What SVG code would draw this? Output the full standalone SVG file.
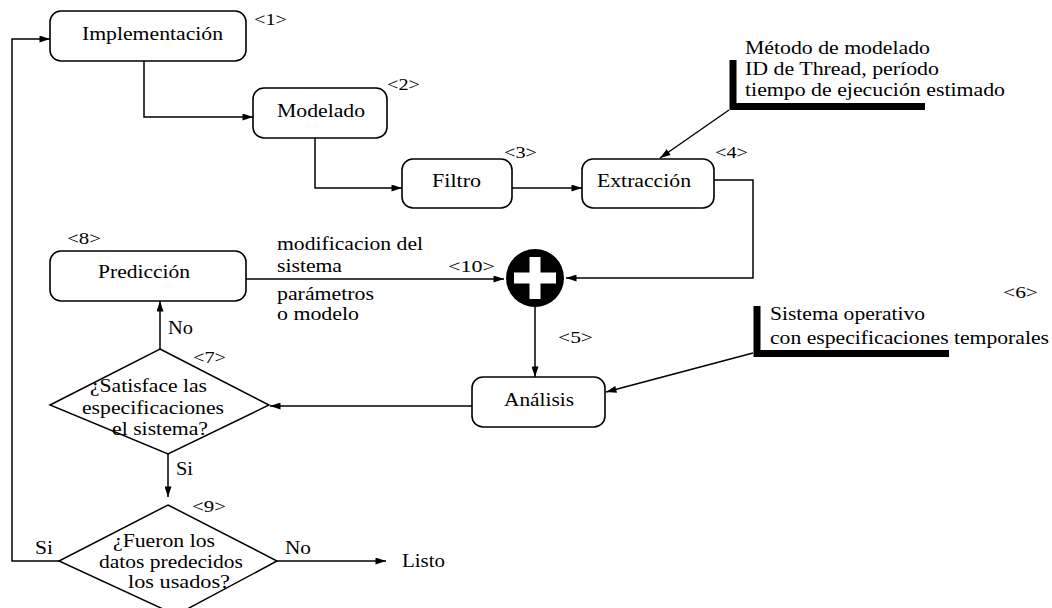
<svg xmlns="http://www.w3.org/2000/svg" width="1052" height="608" viewBox="0 0 1052 608" font-family="'Liberation Serif', 'DejaVu Serif', serif">
  <defs>
    <marker id="arrow" viewBox="0 0 12 8" refX="12" refY="4" markerWidth="12" markerHeight="7" markerUnits="userSpaceOnUse" orient="auto">
      <path d="M0,0 L12,4 L0,8 Z" fill="#000"/>
    </marker>
    <style>
      text { font-family: 'Liberation Serif', 'DejaVu Serif', serif; fill: #000; }
      .lbl { font-size: 19.5px; }
      .num { font-size: 16px; }
      .box { fill: #fff; stroke: #000; stroke-width: 1.6; }
      .dia { fill: none; stroke: #000; stroke-width: 1.5; }
      .edge { fill: none; stroke: #000; stroke-width: 1.5; marker-end: url(#arrow); }
      .bracket { fill: none; stroke: #000; stroke-width: 7; }
    </style>
  </defs>

  <!-- connectors -->
  <g id="connectors">
    <polyline class="edge" points="59,561 12,561 12,39 50,39"/>
    <polyline class="edge" points="144,61 144,117 253,117"/>
    <polyline class="edge" points="315,138 315,188 402,188"/>
    <line class="edge" x1="512" y1="188" x2="582" y2="188"/>
    <polyline class="edge" points="714,180 753,180 753,278 566,278"/>
    <line class="edge" x1="245" y1="279" x2="504" y2="279"/>
    <line class="edge" x1="535" y1="307" x2="535" y2="377"/>
    <line class="edge" x1="472" y1="406" x2="270" y2="406"/>
    <line class="edge" x1="160" y1="349" x2="160" y2="301"/>
    <line class="edge" x1="168" y1="454" x2="168" y2="497"/>
    <line class="edge" x1="277" y1="561" x2="386" y2="561"/>
    <line class="edge" x1="729" y1="110" x2="660" y2="158"/>
    <line class="edge" x1="753" y1="353" x2="606" y2="392"/>
  </g>

  <!-- 1: Implementación -->
  <g id="n1">
    <rect class="box" x="50" y="11" width="196" height="50" rx="11"/>
    <text class="lbl" x="82" y="40" textLength="141" lengthAdjust="spacingAndGlyphs">Implementación</text>
    <text class="num" x="254" y="25" textLength="33" lengthAdjust="spacingAndGlyphs">&lt;1&gt;</text>
  </g>

  <!-- 2: Modelado -->
  <g id="n2">
    <rect class="box" x="253" y="88" width="134" height="50" rx="11"/>
    <text class="lbl" x="277" y="117" textLength="88" lengthAdjust="spacingAndGlyphs">Modelado</text>
    <text class="num" x="387" y="90" textLength="33" lengthAdjust="spacingAndGlyphs">&lt;2&gt;</text>
  </g>

  <!-- 3: Filtro -->
  <g id="n3">
    <rect class="box" x="402" y="159" width="110" height="49" rx="11"/>
    <text class="lbl" x="432" y="187" textLength="49" lengthAdjust="spacingAndGlyphs">Filtro</text>
    <text class="num" x="504" y="158" textLength="33" lengthAdjust="spacingAndGlyphs">&lt;3&gt;</text>
  </g>

  <!-- 4: Extracción -->
  <g id="n4">
    <rect class="box" x="582" y="159" width="132" height="49" rx="11"/>
    <text class="lbl" x="597" y="187" textLength="94" lengthAdjust="spacingAndGlyphs">Extracción</text>
    <text class="num" x="715" y="158" textLength="33" lengthAdjust="spacingAndGlyphs">&lt;4&gt;</text>
  </g>

  <!-- extraction inputs -->
  <g id="n4-input">
    <polyline class="bracket" points="733,60 733,106.5 925,106.5"/>
    <text class="lbl" x="745" y="54" textLength="185" lengthAdjust="spacingAndGlyphs">Método de modelado</text>
    <text class="lbl" x="745" y="75" textLength="194" lengthAdjust="spacingAndGlyphs">ID de Thread, período</text>
    <text class="lbl" x="745" y="96" textLength="260" lengthAdjust="spacingAndGlyphs">tiempo de ejecución estimado</text>
  </g>

  <!-- 10: combining node -->
  <g id="n10">
    <circle cx="535" cy="278" r="29" fill="#000"/>
    <rect x="514" y="272.5" width="42" height="11" fill="#fff"/>
    <rect x="529.5" y="257" width="11" height="42" fill="#fff"/>
    <text class="num" x="448" y="272" textLength="47" lengthAdjust="spacingAndGlyphs">&lt;10&gt;</text>
  </g>

  <!-- 8: Predicción -->
  <g id="n8">
    <rect class="box" x="50" y="251" width="196" height="50" rx="11"/>
    <text class="lbl" x="98" y="278" textLength="92" lengthAdjust="spacingAndGlyphs">Predicción</text>
    <text class="num" x="67" y="244" textLength="34" lengthAdjust="spacingAndGlyphs">&lt;8&gt;</text>
    <text class="lbl" x="277" y="250" textLength="146" lengthAdjust="spacingAndGlyphs">modificacion del</text>
    <text class="lbl" x="277" y="272" textLength="65" lengthAdjust="spacingAndGlyphs">sistema</text>
    <text class="lbl" x="277" y="300" textLength="97" lengthAdjust="spacingAndGlyphs">parámetros</text>
    <text class="lbl" x="277" y="320" textLength="82" lengthAdjust="spacingAndGlyphs">o modelo</text>
  </g>

  <!-- 5: Análisis -->
  <g id="n5">
    <rect class="box" x="472" y="377" width="133" height="50" rx="11"/>
    <text class="lbl" x="504" y="406" textLength="70" lengthAdjust="spacingAndGlyphs">Análisis</text>
    <text class="num" x="558" y="343" textLength="35" lengthAdjust="spacingAndGlyphs">&lt;5&gt;</text>
  </g>

  <!-- 6: operating system input -->
  <g id="n6">
    <polyline class="bracket" points="757,306 757,353.5 949,353.5"/>
    <text class="lbl" x="770" y="320" textLength="155" lengthAdjust="spacingAndGlyphs">Sistema operativo</text>
    <text class="lbl" x="770" y="344" textLength="279" lengthAdjust="spacingAndGlyphs">con especificaciones temporales</text>
    <text class="num" x="1003" y="298" textLength="35" lengthAdjust="spacingAndGlyphs">&lt;6&gt;</text>
  </g>

  <!-- 7: decision -->
  <g id="n7">
    <polygon class="dia" points="160,349 269,405 168,454 50,405"/>
    <text class="lbl" x="90" y="392" textLength="117" lengthAdjust="spacingAndGlyphs">¿Satisface las</text>
    <text class="lbl" x="82" y="414" textLength="142" lengthAdjust="spacingAndGlyphs">especificaciones</text>
    <text class="lbl" x="112" y="435" textLength="96" lengthAdjust="spacingAndGlyphs">el sistema?</text>
    <text class="num" x="193" y="363" textLength="33" lengthAdjust="spacingAndGlyphs">&lt;7&gt;</text>
    <text class="lbl" x="168" y="334" textLength="25" lengthAdjust="spacingAndGlyphs">No</text>
    <text class="lbl" x="176" y="475" textLength="17" lengthAdjust="spacingAndGlyphs">Si</text>
  </g>

  <!-- 9: decision -->
  <g id="n9">
    <polygon class="dia" points="168,505 277,561 176,615 59,561"/>
    <text class="lbl" x="113" y="547" textLength="102" lengthAdjust="spacingAndGlyphs">¿Fueron los</text>
    <text class="lbl" x="99" y="568" textLength="144" lengthAdjust="spacingAndGlyphs">datos predecidos</text>
    <text class="lbl" x="128" y="588" textLength="102" lengthAdjust="spacingAndGlyphs">los usados?</text>
    <text class="num" x="192" y="512" textLength="34" lengthAdjust="spacingAndGlyphs">&lt;9&gt;</text>
    <text class="lbl" x="35" y="554" textLength="18" lengthAdjust="spacingAndGlyphs">Si</text>
    <text class="lbl" x="285" y="554" textLength="26" lengthAdjust="spacingAndGlyphs">No</text>
    <text class="lbl" x="402" y="567" textLength="43" lengthAdjust="spacingAndGlyphs">Listo</text>
  </g>
</svg>
